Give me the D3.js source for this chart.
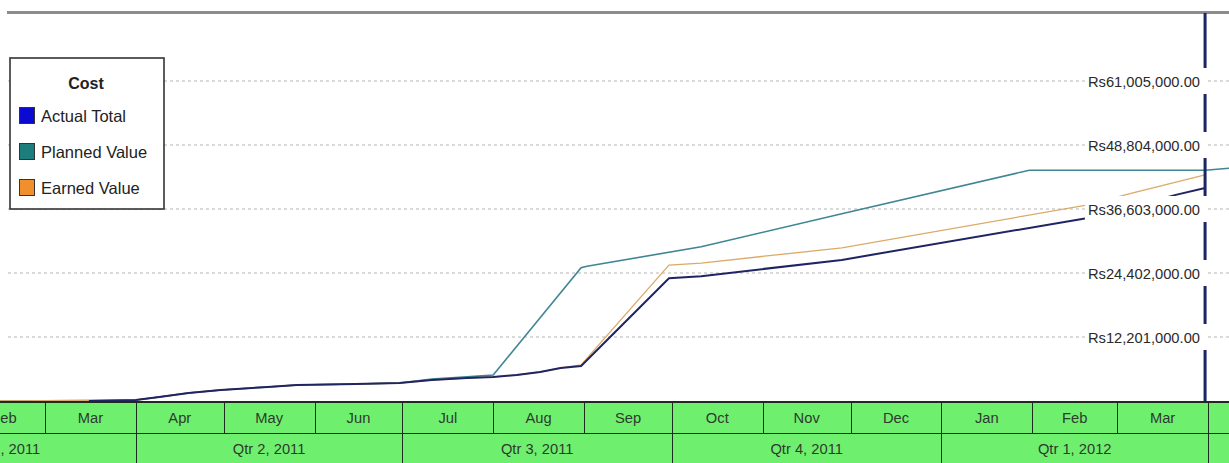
<!DOCTYPE html>
<html>
<head>
<meta charset="utf-8">
<script src="https://cdn.jsdelivr.net/npm/d3@7"></script>
<style>
  body { margin: 0; background: #fff; }
  svg { display: block; font-family: "Liberation Sans", Arial, sans-serif; }
</style>
</head>
<body>
<div id="chart-area"></div>
<script>
// series data (Rs, cumulative)
const actualDates = ["2011-03-16","2011-04-01","2011-04-09","2011-04-19","2011-04-30","2011-05-16","2011-05-26","2011-06-15","2011-06-30","2011-07-11","2011-07-23","2011-08-01","2011-08-09","2011-08-17","2011-08-24","2011-08-31","2011-09-30","2011-10-11","2011-11-28","2012-02-20","2012-03-21","2012-03-31"]
const actualValues = [0, 190000, 760000, 1530000, 2100000, 2670000, 3050000, 3240000, 3430000, 4000000, 4380000, 4580000, 4960000, 5530000, 6290000, 6670000, 23400000, 23800000, 26900000, 34900000, 39300000, 40600000]

const plannedDates = ["2011-02-13","2011-03-16","2011-04-01","2011-04-09","2011-04-19","2011-04-30","2011-05-16","2011-05-26","2011-06-15","2011-06-30","2011-07-11","2011-07-23","2011-08-01","2011-08-31","2011-09-02","2011-10-11","2011-11-28","2012-01-31","2012-03-31","2012-04-09"]
const plannedValues = [0, 100000, 190000, 760000, 1530000, 2100000, 2670000, 3050000, 3240000, 3430000, 4200000, 4600000, 4960000, 25400000, 25700000, 29400000, 35700000, 44000000, 44000000, 44400000]

const earnedDates = ["2011-02-13","2011-03-16","2011-04-01","2011-04-09","2011-04-19","2011-04-30","2011-05-16","2011-05-26","2011-06-15","2011-06-30","2011-07-11","2011-07-23","2011-08-01","2011-08-09","2011-08-17","2011-08-24","2011-08-31","2011-09-30","2011-10-11","2011-11-28","2012-02-20","2012-03-05","2012-03-31"]
const earnedValues = [0, 100000, 190000, 760000, 1530000, 2100000, 2670000, 3050000, 3240000, 3430000, 4000000, 4380000, 4580000, 4960000, 5530000, 6290000, 6860000, 25900000, 26300000, 29200000, 37400000, 39500000, 43100000]

const yTicks = [12201000, 24402000, 36603000, 48804000, 61005000]
const monthLabels = ["Feb","Mar","Apr","May","Jun","Jul","Aug","Sep","Oct","Nov","Dec","Jan","Feb","Mar","Apr"]
const quarterLabels = ["Qtr 1, 2011","Qtr 2, 2011","Qtr 3, 2011","Qtr 4, 2011","Qtr 1, 2012","Qtr 2, 2012"]
const legendLabels = ["Actual Total","Planned Value","Earned Value"]
const statusDate = "2012-03-31"

const width = 1229, height = 463
const parse = d3.timeParse("%Y-%m-%d")
const squeeze = 0.95 // glyphs in the original are a bit narrow and tall

const svg = d3.select("#chart-area").append("svg")
    .attr("width", width)
    .attr("height", height)

const x = d3.scaleTime()
    .domain([new Date(2011, 2, 1), new Date(2012, 3, 1)])
    .range([45, 1208])

const y = d3.scaleLinear()
    .domain([0, 61005000])
    .range([401, 81])

// top rule
svg.append("rect")
    .attr("x", 7).attr("y", 11)
    .attr("width", width - 7).attr("height", 3)
    .attr("fill", "#8c8c8c")

// gridlines
svg.append("g")
    .selectAll("line")
    .data(yTicks)
    .enter().append("line")
        .attr("x1", 8).attr("x2", width)
        .attr("y1", d => y(d)).attr("y2", d => y(d))
        .attr("stroke", "#b4b4b4")
        .attr("stroke-dasharray", "3,3")

// series lines
const series = [
    { dates: plannedDates, values: plannedValues, color: "#3f8594", w: 1.6 },
    { dates: earnedDates, values: earnedValues, color: "#dcaa68", w: 1.3 },
    { dates: actualDates, values: actualValues, color: "#1f2462", w: 2 }
]
const line = d3.line()
    .x(d => x(d[0]))
    .y(d => y(d[1]))

series.forEach(function(s){
    const pts = s.dates.map((d, i) => [parse(d), s.values[i]])
    svg.append("path")
        .datum(pts)
        .attr("d", line)
        .attr("fill", "none")
        .attr("stroke", s.color)
        .attr("stroke-width", s.w)
})

// status date line
svg.append("line")
    .attr("x1", x(parse(statusDate))).attr("x2", x(parse(statusDate)))
    .attr("y1", 13).attr("y2", 401)
    .attr("stroke", "#1b2563")
    .attr("stroke-width", 3)

// right value labels with white backing
const labels = svg.append("g")
yTicks.forEach(function(t){
    const lg = labels.append("g")
    const bg = lg.append("rect").attr("fill", "#fff")
    const txt = lg.append("text")
        .attr("transform", "translate(1200," + y(t) + ") scale(" + squeeze + ",1)")
        .attr("dy", "0.36em")
        .attr("text-anchor", "end")
        .attr("font-size", "15.5px")
        .attr("fill", "#2a2a2a")
        .text("Rs" + d3.format(",.2f")(t))
    const w = txt.node().getBBox().width * squeeze
    bg.attr("x", 1200 - w - 3).attr("y", y(t) - 13)
      .attr("width", w + 11).attr("height", 26)
})

// legend
const legend = svg.append("g")
legend.append("rect")
    .attr("x", 10).attr("y", 58)
    .attr("width", 154).attr("height", 151)
    .attr("fill", "#fff")
    .attr("stroke", "#333")
    .attr("stroke-width", 1.6)
legend.append("text")
    .attr("x", 86).attr("y", 83)
    .attr("dy", "0.36em")
    .attr("text-anchor", "middle")
    .attr("font-size", "16px")
    .attr("font-weight", "bold")
    .attr("fill", "#222")
    .text("Cost")
const swatchColors = ["#0a0ad2", "#1d7d7d", "#f0902c"]
legendLabels.forEach(function(l, i){
    legend.append("rect")
        .attr("x", 19.5).attr("y", 107.5 + i * 36)
        .attr("width", 15).attr("height", 16)
        .attr("fill", swatchColors[i])
        .attr("stroke", "#333")
    legend.append("text")
        .attr("x", 41).attr("y", 116 + i * 36)
        .attr("dy", "0.36em")
        .attr("font-size", "16.5px")
        .attr("fill", "#222")
        .text(l)
})

// timescale band
const tl = svg.append("g")
tl.append("rect")
    .attr("x", 0).attr("y", 402)
    .attr("width", width).attr("height", height - 402)
    .attr("fill", "#6ef06e")

const firstMonth = new Date(2011, 1, 1)
const monthCells = monthLabels.map((m, i) => ({
    label: m,
    start: d3.timeMonth.offset(firstMonth, i),
    end: d3.timeMonth.offset(firstMonth, i + 1)
}))
const firstQuarter = new Date(2011, 0, 1)
const quarterCells = quarterLabels.map((q, i) => ({
    label: q,
    start: d3.timeMonth.offset(firstQuarter, i * 3),
    end: d3.timeMonth.offset(firstQuarter, i * 3 + 3)
}))

function drawRow(cells, y0, y1){
    tl.selectAll(null)
        .data(cells)
        .enter().append("line")
            .attr("x1", d => Math.round(x(d.start)) + 0.5)
            .attr("x2", d => Math.round(x(d.start)) + 0.5)
            .attr("y1", y0).attr("y2", y1)
            .attr("stroke", "#1e2a1e")
    tl.selectAll(null)
        .data(cells)
        .enter().append("text")
            .attr("transform", d => "translate(" + ((x(d.start) + x(d.end)) / 2) + "," + ((y0 + y1) / 2) + ") scale(" + squeeze + ",1)")
            .attr("dy", "0.36em")
            .attr("text-anchor", "middle")
            .attr("font-size", "15.5px")
            .attr("fill", "#2e3a2e")
            .text(d => d.label)
}
drawRow(monthCells, 402, 433)
drawRow(quarterCells, 433, 463)

tl.append("line")
    .attr("x1", 0).attr("x2", width)
    .attr("y1", 402).attr("y2", 402)
    .attr("stroke", "#1e2a1e").attr("stroke-width", 2)
tl.append("line")
    .attr("x1", 0).attr("x2", width)
    .attr("y1", 433.5).attr("y2", 433.5)
    .attr("stroke", "#1e2a1e")
</script>
</body>
</html>
